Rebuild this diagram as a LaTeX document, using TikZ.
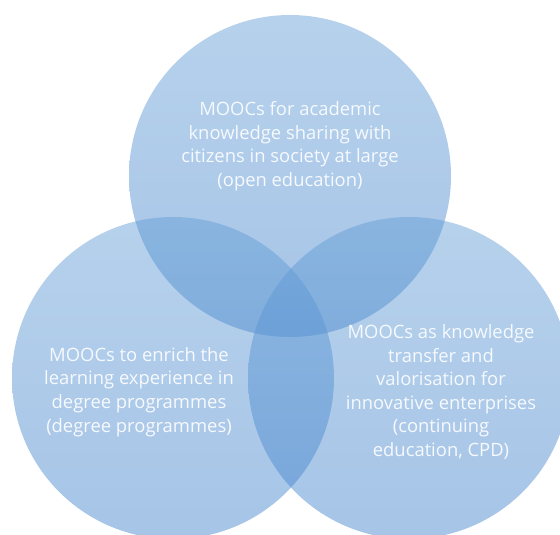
\documentclass[tikz,border=0pt]{standalone}
\usepackage{fontspec}
\setmainfont{Open Sans}
\definecolor{venntop}{RGB}{100,158,214}
\definecolor{vennbot}{RGB}{66,130,204}
\definecolor{lbltext}{RGB}{246,249,253}
\begin{document}
\begin{tikzpicture}[x=1pt,y=-1pt,
  venn/.style={circle, minimum size=322pt, inner sep=0pt, draw=none,
    top color=venntop, bottom color=vennbot, fill opacity=0.47},
  lbl/.style={text=lbltext, align=center, inner sep=0pt,
    font=\fontsize{18.4}{23.6}\selectfont}]
\useasboundingbox (0,0) rectangle (560,535);
\clip (0,0) rectangle (560,535);
\node[venn] (ctop) at (290,176) {};
\node[venn] (cleft) at (173,378) {};
\node[venn] (cright) at (409,378) {};
\node[lbl] (ttop) at (290,146) {MOOCs for academic\\knowledge sharing with\\citizens in society at large\\(open education)};
\node[lbl] (tleft) at (139,392) {MOOCs to enrich the\\learning experience in\\degree programmes\\(degree programmes)};
\node[lbl] (tright) at (441,392) {MOOCs as knowledge\\transfer and\\valorisation for\\innovative enterprises\\(continuing\\education, CPD)};
\end{tikzpicture}
\end{document}
